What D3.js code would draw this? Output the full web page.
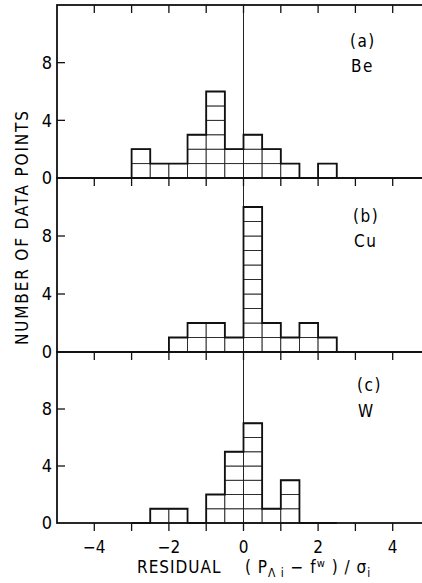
<!DOCTYPE html>
<html>
<head>
<meta charset="utf-8">
<script src="https://cdnjs.cloudflare.com/ajax/libs/d3/7.8.5/d3.min.js"></script>
<style>
  html, body { margin: 0; padding: 0; background: #fff; }
  svg { display: block; }
  text { font-family: "DejaVu Sans Condensed", "DejaVu Sans", sans-serif; fill: #000; }
</style>
</head>
<body>
<div id="chart"></div>
<script>
// histogram bin edges (residual units)
const binEdges = [-3, -2.5, -2, -1.5, -1, -0.5, 0, 0.5, 1, 1.5, 2, 2.5];
// counts per bin
const countsBe = [2, 1, 1, 3, 6, 2, 3, 2, 1, 0, 1];
const countsCu = [0, 0, 1, 2, 2, 1, 10, 2, 1, 2, 1];
const countsW  = [0, 1, 1, 0, 2, 5, 7, 1, 3, 0, 0];
const panelTags = ['(a)', '(b)', '(c)'];
const panelNames = ['Be', 'Cu', 'W'];
const xTicks = [-4, -3, -2, -1, 0, 1, 2, 3, 4];
const xTickLabels = [-4, -2, 0, 2, 4];
const yTicks = [0, 4, 8];

function render() {
  const width = 422, height = 583;
  const svg = d3.select('#chart').append('svg')
    .attr('width', width)
    .attr('height', height);

  const left = 57, right = 430;
  const x = d3.scaleLinear().domain([-5, 5]).range([left, right]);

  // panel top / bottom in px
  const panels = [
    { top: 5, bottom: 178, counts: countsBe, lx: 350, ly1: 47, ly2: 72 },
    { top: 178, bottom: 352, counts: countsCu, lx: 353, ly1: 222, ly2: 247 },
    { top: 352, bottom: 523, counts: countsW, lx: 357, ly1: 391, ly2: 417 }
  ];

  panels.forEach((p, pi) => {
    const y = d3.scaleLinear().domain([0, 12]).range([p.bottom, p.top]);
    const g = svg.append('g');

    // cells of each bar
    p.counts.forEach((c, i) => {
      const x0 = x(binEdges[i]), x1 = x(binEdges[i + 1]);
      for (let k = 0; k < c; k++) {
        g.append('rect')
          .attr('x', x0)
          .attr('y', y(k + 1))
          .attr('width', x1 - x0)
          .attr('height', y(k) - y(k + 1))
          .attr('fill', '#fff')
          .attr('stroke', '#222')
          .attr('stroke-width', 0.9);
      }
    });

    // zero line
    g.append('line')
      .attr('x1', x(0)).attr('x2', x(0))
      .attr('y1', p.top).attr('y2', p.bottom)
      .attr('stroke', '#222')
      .attr('stroke-width', 1);

    // thick outline of histogram
    let d = `M${x(binEdges[0])},${y(0)}`;
    p.counts.forEach((c, i) => {
      d += ` L${x(binEdges[i])},${y(c)} L${x(binEdges[i + 1])},${y(c)}`;
    });
    d += ` L${x(binEdges[binEdges.length - 1])},${y(0)}`;
    g.append('path')
      .attr('d', d)
      .attr('fill', 'none')
      .attr('stroke', '#111')
      .attr('stroke-width', 1.8)
      .attr('stroke-linejoin', 'miter');

    // frame
    g.append('rect')
      .attr('x', left).attr('y', p.top)
      .attr('width', right - left).attr('height', p.bottom - p.top)
      .attr('fill', 'none')
      .attr('stroke', '#111')
      .attr('stroke-width', 1.8);

    // x ticks: pointing down at top and below baseline
    xTicks.forEach(t => {
      g.append('line')
        .attr('x1', x(t)).attr('x2', x(t))
        .attr('y1', p.top).attr('y2', p.top + 8)
        .attr('stroke', '#111').attr('stroke-width', 1.3);
    });
    if (pi === panels.length - 1) {
      xTicks.forEach(t => {
        g.append('line')
          .attr('x1', x(t)).attr('x2', x(t))
          .attr('y1', p.bottom).attr('y2', p.bottom + 8)
          .attr('stroke', '#111').attr('stroke-width', 1.3);
      });
    }

    // y ticks and labels
    yTicks.forEach(t => {
      if (t === 0) return;
      g.append('line')
        .attr('x1', left).attr('x2', left + 8)
        .attr('y1', y(t)).attr('y2', y(t))
        .attr('stroke', '#111').attr('stroke-width', 1.3);
      g.append('line')
        .attr('x1', right).attr('x2', right - 8)
        .attr('y1', y(t)).attr('y2', y(t))
        .attr('stroke', '#111').attr('stroke-width', 1.3);
    });
    yTicks.forEach(t => {
      g.append('text')
        .attr('x', 52)
        .attr('y', y(t))
        .attr('dy', '0.36em')
        .attr('text-anchor', 'end')
        .attr('font-size', '18px')
        .text(t);
    });

    // panel labels
    g.append('text')
      .attr('x', p.lx).attr('y', p.ly1)
      .attr('font-size', '17px')
      .attr('letter-spacing', '1.5px')
      .text(panelTags[pi]);
    g.append('text')
      .attr('x', p.lx + 1).attr('y', p.ly2)
      .attr('font-size', '17px')
      .attr('letter-spacing', '1.5px')
      .text(panelNames[pi]);
  });

  // x tick labels
  xTickLabels.forEach(t => {
    svg.append('text')
      .attr('x', x(t))
      .attr('y', 553)
      .attr('text-anchor', 'middle')
      .attr('font-size', '17px')
      .text(t < 0 ? '\u2212' + Math.abs(t) : t);
  });

  // y axis title
  svg.append('text')
    .attr('transform', 'translate(28,228) rotate(-90)')
    .attr('text-anchor', 'middle')
    .attr('font-size', '17px')
    .attr('textLength', 234)
    .attr('lengthAdjust', 'spacing')
    .text('NUMBER OF DATA POINTS');

  // x axis title
  const xt = svg.append('text')
    .attr('x', 137)
    .attr('y', 573)
    .attr('font-size', '17px')
    .attr('letter-spacing', '1px')
    .style('white-space', 'pre');
  xt.append('tspan').text('RESIDUAL    ( P');
  xt.append('tspan').attr('font-size', '12px').attr('dy', 4).text('\u039B i');
  xt.append('tspan').attr('dy', -4).text(' \u2212 f');
  xt.append('tspan').attr('font-size', '11px').attr('dy', -6).text('w');
  xt.append('tspan').attr('dy', 6).text(' ) / \u03C3');
  xt.append('tspan').attr('font-size', '12px').attr('dy', 4).text('i');
}

render();
</script>
</body>
</html>
